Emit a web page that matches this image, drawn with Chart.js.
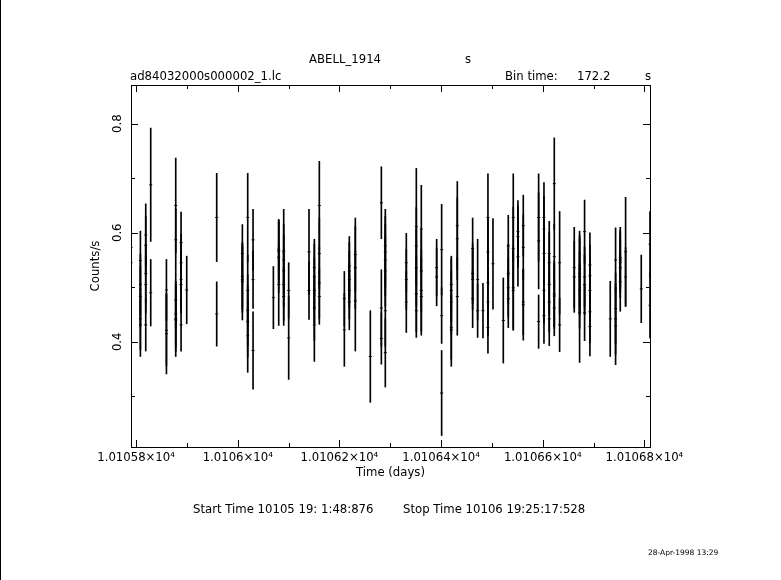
<!DOCTYPE html>
<html>
<head>
<meta charset="utf-8">
<script src="https://cdn.jsdelivr.net/npm/chart.js@4.4.0/dist/chart.umd.min.js"></script>
<style>
html, body { margin: 0; padding: 0; background: #fff; }
</style>
</head>
<body>
<canvas id="curva" width="781" height="580"></canvas>
<script>
// light curve ABELL_1914, bin 172.2 s
// one entry per bin: time (days), rate (counts/s), 1-sigma error
var tiempo = [
    10105.7900, 10105.7900,
    10105.8085, 10105.8085, 10105.8085, 10105.8085, 10105.8085,
    10105.8190, 10105.8190, 10105.8190, 10105.8190, 10105.8190,
    10105.8288, 10105.8288,
    10105.8597, 10105.8597, 10105.8597,
    10105.8780, 10105.8780, 10105.8780, 10105.8780, 10105.8780, 10105.8780,
    10105.8885, 10105.8885, 10105.8885, 10105.8885, 10105.8885,
    10105.8996,
    10105.9586, 10105.9586,
    10106.0091, 10106.0091, 10106.0091, 10106.0091,
    10106.0196, 10106.0196, 10106.0196, 10106.0196, 10106.0196,
    10106.0301, 10106.0301, 10106.0301,
    10106.0701,
    10106.0806, 10106.0806, 10106.0806, 10106.0806,
    10106.0904, 10106.0904, 10106.0904, 10106.0904, 10106.0904,
    10106.1002, 10106.1002,
    10106.1402, 10106.1402,
    10106.1507, 10106.1507, 10106.1507, 10106.1507, 10106.1507,
    10106.1605, 10106.1605, 10106.1605, 10106.1605,
    10106.2097, 10106.2097,
    10106.2195, 10106.2195, 10106.2195, 10106.2195, 10106.2195,
    10106.2313, 10106.2313, 10106.2313,
    10106.2608,
    10106.2825, 10106.2825, 10106.2825,
    10106.2903, 10106.2903, 10106.2903, 10106.2903, 10106.2903, 10106.2903,
    10106.3316, 10106.3316, 10106.3316,
    10106.3513, 10106.3513, 10106.3513, 10106.3513, 10106.3513,
    10106.3611, 10106.3611, 10106.3611, 10106.3611,
    10106.3913, 10106.3913,
    10106.4011, 10106.4011, 10106.4011,
    10106.4201, 10106.4201, 10106.4201, 10106.4201, 10106.4201,
    10106.4319, 10106.4319, 10106.4319,
    10106.4621, 10106.4621, 10106.4621, 10106.4621,
    10106.4719, 10106.4719,
    10106.4824,
    10106.4922, 10106.4922, 10106.4922, 10106.4922, 10106.4922,
    10106.5021,
    10106.5224,
    10106.5322, 10106.5322, 10106.5322, 10106.5322,
    10106.5420, 10106.5420, 10106.5420, 10106.5420,
    10106.5512, 10106.5512, 10106.5512,
    10106.5617, 10106.5617, 10106.5617, 10106.5617,
    10106.5919, 10106.5919, 10106.5919,
    10106.6024, 10106.6024, 10106.6024, 10106.6024, 10106.6024,
    10106.6128, 10106.6128, 10106.6128, 10106.6128, 10106.6128,
    10106.6227, 10106.6227, 10106.6227, 10106.6227, 10106.6227,
    10106.6332, 10106.6332,
    10106.6620, 10106.6620,
    10106.6725, 10106.6725, 10106.6725, 10106.6725, 10106.6725,
    10106.6823, 10106.6823, 10106.6823, 10106.6823,
    10106.6928, 10106.6928, 10106.6928, 10106.6928, 10106.6928,
    10106.7328,
    10106.7433, 10106.7433, 10106.7433, 10106.7433,
    10106.7525, 10106.7525, 10106.7525, 10106.7525, 10106.7525,
    10106.7630, 10106.7630,
    10106.7938,
    10106.8110, 10106.8110
];

var cuentas = [
    0.573, 0.545,
    0.549, 0.505, 0.483, 0.442, 0.431,
    0.596, 0.577, 0.525, 0.505, 0.431,
    0.688, 0.490,
    0.495, 0.421, 0.415,
    0.650, 0.587, 0.477, 0.451, 0.442, 0.440,
    0.582, 0.545, 0.514, 0.505, 0.431,
    0.495,
    0.628, 0.451,
    0.562, 0.520, 0.514, 0.511,
    0.628, 0.494, 0.458, 0.437, 0.411,
    0.587, 0.514, 0.384,
    0.481,
    0.569, 0.566, 0.555, 0.505,
    0.566, 0.550, 0.530, 0.505, 0.483,
    0.494, 0.407,
    0.565, 0.494,
    0.536, 0.519, 0.494, 0.462, 0.431,
    0.650, 0.562, 0.508, 0.483,
    0.479, 0.422,
    0.539, 0.530, 0.514, 0.494, 0.473,
    0.560, 0.536, 0.475,
    0.373,
    0.655, 0.462, 0.406,
    0.576, 0.565, 0.550, 0.530, 0.457, 0.380,
    0.545, 0.514, 0.473,
    0.611, 0.576, 0.536, 0.488, 0.457,
    0.607, 0.530, 0.494, 0.483,
    0.536, 0.519,
    0.569, 0.448, 0.306,
    0.505, 0.494, 0.473, 0.426, 0.422,
    0.613, 0.589, 0.483,
    0.571, 0.525, 0.514, 0.479,
    0.514, 0.457,
    0.457,
    0.628, 0.565, 0.508, 0.473, 0.426,
    0.543,
    0.439,
    0.576, 0.525, 0.499, 0.479,
    0.628, 0.571, 0.499, 0.494,
    0.602, 0.593, 0.556,
    0.613, 0.573, 0.473, 0.468,
    0.628, 0.585, 0.437,
    0.628, 0.607, 0.562, 0.494, 0.448,
    0.562, 0.545, 0.505, 0.473, 0.442,
    0.690, 0.556, 0.488, 0.484, 0.462,
    0.545, 0.431,
    0.536, 0.519,
    0.534, 0.525, 0.519, 0.495, 0.453,
    0.602, 0.519, 0.505, 0.453,
    0.541, 0.521, 0.494, 0.455, 0.428,
    0.442,
    0.550, 0.461, 0.442, 0.429,
    0.554, 0.550, 0.545, 0.536, 0.510,
    0.565, 0.519,
    0.497,
    0.579, 0.467
];

var errores = [
    0.060, 0.060,
    0.054, 0.056, 0.056, 0.056, 0.058,
    0.057, 0.053, 0.053, 0.053, 0.048,
    0.104, 0.061,
    0.056, 0.065, 0.074,
    0.087, 0.057, 0.052, 0.060, 0.060, 0.067,
    0.056, 0.052, 0.052, 0.052, 0.048,
    0.062,
    0.081, 0.059,
    0.053, 0.060, 0.060, 0.071,
    0.081, 0.065, 0.065, 0.065, 0.067,
    0.056, 0.053, 0.071,
    0.057,
    0.055, 0.058, 0.065, 0.075,
    0.077, 0.065, 0.065, 0.065, 0.053,
    0.051, 0.076,
    0.078, 0.053,
    0.052, 0.060, 0.060, 0.060, 0.067,
    0.081, 0.065, 0.065, 0.051,
    0.050, 0.067,
    0.054, 0.052, 0.052, 0.052, 0.051,
    0.067, 0.075, 0.092,
    0.084,
    0.066, 0.070, 0.047,
    0.067, 0.065, 0.065, 0.065, 0.065, 0.063,
    0.054, 0.055, 0.056,
    0.107, 0.070, 0.070, 0.070, 0.049,
    0.080, 0.075, 0.075, 0.071,
    0.052, 0.053,
    0.083, 0.051, 0.078,
    0.052, 0.058, 0.058, 0.058, 0.067,
    0.081, 0.075, 0.071,
    0.056, 0.055, 0.055, 0.053,
    0.074, 0.049,
    0.050,
    0.080, 0.062, 0.062, 0.062, 0.047,
    0.083,
    0.078,
    0.056, 0.054, 0.054, 0.053,
    0.080, 0.076, 0.076, 0.073,
    0.057, 0.056, 0.054,
    0.056, 0.060, 0.060, 0.065,
    0.080, 0.088, 0.049,
    0.064, 0.060, 0.060, 0.060, 0.051,
    0.059, 0.055, 0.055, 0.055, 0.049,
    0.084, 0.060, 0.060, 0.060, 0.051,
    0.094, 0.049,
    0.074, 0.065,
    0.069, 0.070, 0.070, 0.070, 0.091,
    0.058, 0.055, 0.055, 0.051,
    0.059, 0.057, 0.057, 0.057, 0.054,
    0.069,
    0.059, 0.065, 0.065, 0.071,
    0.056, 0.055, 0.055, 0.055, 0.054,
    0.100, 0.054,
    0.062,
    0.060, 0.060
];

var ticksX = [10105.8, 10106.0, 10106.2, 10106.4, 10106.6, 10106.8];
var ticksXmenor = [10105.9, 10106.1, 10106.3, 10106.5, 10106.7];
var ticksY = [0.4, 0.6, 0.8];
var ticksYmenor = [0.3, 0.5, 0.7];

var fuente = 'DejaVu Sans';
Chart.defaults.font.family = fuente;
Chart.defaults.font.size = 11.7;
Chart.defaults.color = '#000';

var barras = tiempo.map(function (t, i) {
    return { x: t, y: [cuentas[i] - errores[i], cuentas[i] + errores[i]] };
});
var puntos = tiempo.map(function (t, i) {
    return { x: t, y: cuentas[i] };
});

// frame, inward ticks, rotated y labels and the header/footer texts
var marco = {
    id: 'marco',
    afterDraw: function (chart) {
        var ctx = chart.ctx;
        var a = chart.chartArea;
        var sx = chart.scales.x;
        var sy = chart.scales.y;
        ctx.save();
        ctx.strokeStyle = '#000';
        ctx.fillStyle = '#000';
        ctx.lineWidth = 1;
        ctx.strokeRect(a.left + 0.5, a.top + 0.5, a.right - a.left, a.bottom - a.top);
        ctx.beginPath();
        ticksX.concat(ticksXmenor).forEach(function (v, i) {
            var px = Math.round(sx.getPixelForValue(v)) + 0.5;
            var len = i < ticksX.length ? 7 : 4;
            ctx.moveTo(px, a.bottom); ctx.lineTo(px, a.bottom - len);
            ctx.moveTo(px, a.top); ctx.lineTo(px, a.top + len);
        });
        ticksY.concat(ticksYmenor).forEach(function (v, i) {
            var py = Math.round(sy.getPixelForValue(v)) + 0.5;
            var len = i < ticksY.length ? 7 : 4;
            ctx.moveTo(a.left, py); ctx.lineTo(a.left + len, py);
            ctx.moveTo(a.right, py); ctx.lineTo(a.right - len, py);
        });
        ctx.stroke();

        ctx.font = '11.7px "' + fuente + '"';
        ctx.textAlign = 'center';
        ctx.textBaseline = 'middle';
        ticksY.forEach(function (v) {
            ctx.save();
            ctx.translate(118, sy.getPixelForValue(v));
            ctx.rotate(-Math.PI / 2);
            ctx.fillText(v.toFixed(1), 0, 0);
            ctx.restore();
        });

        ctx.textBaseline = 'alphabetic';
        ctx.fillText('ABELL_1914', 345, 63);
        ctx.textAlign = 'left';
        ctx.fillText('s', 465, 63);
        ctx.fillText('ad84032000s000002_1.lc', 130, 80);
        ctx.fillText('Bin time:', 505, 80);
        ctx.fillText('172.2', 577, 80);
        ctx.fillText('s', 645, 80);
        ctx.fillText('Start Time 10105 19: 1:48:876', 193, 513);
        ctx.fillText('Stop Time 10106 19:25:17:528', 403, 513);
        ctx.font = '7.5px "' + fuente + '"';
        ctx.fillText('28-Apr-1998 13:29', 648, 555);

        ctx.fillRect(0, 0, 1, chart.height);
        ctx.restore();
    }
};

var miCurva = new Chart(document.getElementById('curva'), {
    type: 'bar',
    data: {
        datasets: [
            {
                type: 'bar',
                data: barras,
                backgroundColor: '#000',
                borderWidth: 0,
                barThickness: 1
            },
            {
                type: 'scatter',
                data: puntos,
                pointStyle: 'line',
                pointRadius: 1.5,
                borderColor: '#000',
                borderWidth: 1,
                showLine: false
            }
        ]
    },
    options: {
        responsive: false,
        animation: false,
        events: [],
        layout: { padding: { left: 0, top: 85, right: 131, bottom: 93 } },
        plugins: { legend: { display: false }, tooltip: { enabled: false } },
        scales: {
            x: {
                type: 'linear',
                min: 10105.790,
                max: 10106.811,
                offset: false,
                grid: { display: false, drawTicks: false },
                border: { display: false },
                afterBuildTicks: function (s) {
                    s.ticks = ticksX.map(function (v) { return { value: v }; });
                },
                afterFit: function (s) { s.height = 40; },
                ticks: {
                    padding: 4,
                    maxRotation: 0,
                    autoSkip: false,
                    callback: function (v) {
                        return parseFloat((v / 1e4).toFixed(5)) + '\u00d710\u2074';
                    }
                },
                title: {
                    display: true,
                    text: 'Time (days)',
                    padding: { top: 0, bottom: 7 }
                }
            },
            y: {
                min: 0.207,
                max: 0.871,
                grid: { display: false, drawTicks: false },
                border: { display: false },
                afterBuildTicks: function (s) {
                    s.ticks = ticksY.map(function (v) { return { value: v }; });
                },
                afterFit: function (s) { s.width = 131; },
                ticks: { display: false },
                title: {
                    display: true,
                    text: 'Counts/s',
                    padding: { top: 89, bottom: 0 }
                }
            }
        }
    },
    plugins: [marco]
});
</script>
</body>
</html>
